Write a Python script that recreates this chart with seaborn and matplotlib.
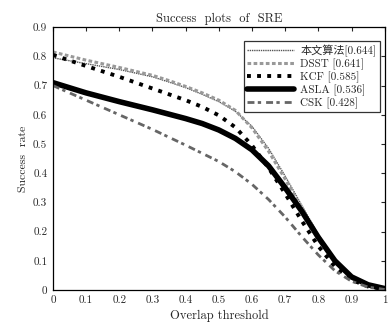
import pandas as pd
import matplotlib.pyplot as plt
import seaborn as sns

# Overlap thresholds
thresholds = [0, 0.1, 0.2, 0.3, 0.35, 0.4, 0.45, 0.5, 0.55, 0.6, 0.65, 0.7, 0.75, 0.8, 0.85, 0.9, 0.95, 1.0]

# Success rates
ours = [0.795, 0.775, 0.755, 0.73, 0.712, 0.693, 0.67, 0.645, 0.612, 0.56, 0.485, 0.39, 0.29, 0.19, 0.105, 0.045, 0.015, 0.003]
dsst = [0.815, 0.787, 0.762, 0.735, 0.717, 0.697, 0.675, 0.65, 0.615, 0.555, 0.475, 0.38, 0.28, 0.18, 0.097, 0.042, 0.014, 0.003]
kcf = [0.805, 0.767, 0.73, 0.69, 0.67, 0.65, 0.627, 0.598, 0.557, 0.495, 0.418, 0.33, 0.237, 0.15, 0.08, 0.035, 0.012, 0.003]
asla = [0.71, 0.675, 0.645, 0.617, 0.602, 0.587, 0.57, 0.548, 0.519, 0.48, 0.425, 0.35, 0.27, 0.18, 0.10, 0.045, 0.018, 0.005]
csk = [0.70, 0.65, 0.60, 0.55, 0.523, 0.496, 0.468, 0.44, 0.405, 0.362, 0.31, 0.25, 0.183, 0.12, 0.066, 0.03, 0.01, 0.002]

labels = ['本文算法[0.644]', 'DSST [0.641]', 'KCF [0.585]', 'ASLA [0.536]', 'CSK [0.428]']

sns.set_style('white')
plt.rcParams['font.family'] = ['cmr10', 'Noto Sans CJK SC']
plt.rcParams['axes.formatter.use_mathtext'] = True
plt.rcParams['mathtext.fontset'] = 'cm'

fig = plt.figure(figsize=(3.89, 3.27), dpi=100)
ax = fig.add_axes([0.136, 0.113, 0.853, 0.804])

# Plot each tracker
sns.lineplot(x=thresholds, y=ours, ax=ax, color='#555555', lw=1.0,
             linestyle=(0, (1, 0.6)), label=labels[0])
sns.lineplot(x=thresholds, y=dsst, ax=ax, color='#999999', lw=2.2,
             linestyle=(0, (1.2, 0.8)), label=labels[1])
sns.lineplot(x=thresholds, y=kcf, ax=ax, color='black', lw=2.8,
             linestyle=(0, (1, 1.6)), label=labels[2])
sns.lineplot(x=thresholds, y=asla, ax=ax, color='black', lw=4.0,
             linestyle='-', label=labels[3])
sns.lineplot(x=thresholds, y=csk, ax=ax, color='#666666', lw=2.0,
             linestyle=(0, (2.5, 1.2, 1.2, 1.8)), label=labels[4])

ax.set_xlim(0, 1)
ax.set_ylim(0, 0.9)
ax.set_xticks([0, 0.1, 0.2, 0.3, 0.4, 0.5, 0.6, 0.7, 0.8, 0.9, 1])
ax.set_xticklabels(['0', '0.1', '0.2', '0.3', '0.4', '0.5', '0.6', '0.7', '0.8', '0.9', '1'])
ax.set_yticks([0, 0.1, 0.2, 0.3, 0.4, 0.5, 0.6, 0.7, 0.8, 0.9])
ax.set_yticklabels(['0', '0.1', '0.2', '0.3', '0.4', '0.5', '0.6', '0.7', '0.8', '0.9'])
ax.tick_params(direction='in', length=3, width=0.8, labelsize=8,
               top=True, right=True, pad=4)
for s in ax.spines.values():
    s.set_color('black')
    s.set_linewidth(0.9)

ax.set_title('Success  plots  of  SRE', fontsize=9, pad=4)
ax.set_xlabel('Overlap threshold', fontsize=9, labelpad=3)
ax.set_ylabel('Success  rate', fontsize=8.5, labelpad=4)

leg = ax.legend(loc='upper right', fontsize=8, frameon=True, fancybox=False,
                edgecolor='black', borderaxespad=0.3, handlelength=4.2,
                handletextpad=0.6, labelspacing=0.15, borderpad=0.3,
                bbox_to_anchor=(0.995, 0.96))
leg.get_frame().set_linewidth(0.9)

fig.savefig('out.png', dpi=100)
